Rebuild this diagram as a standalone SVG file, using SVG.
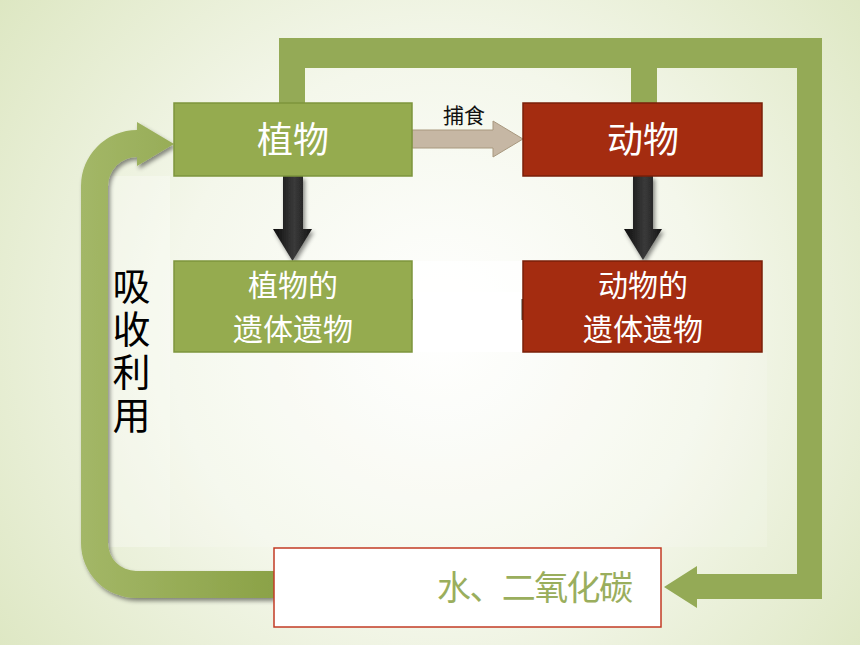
<svg xmlns="http://www.w3.org/2000/svg" width="860" height="645" viewBox="0 0 860 645">
<defs>
<radialGradient id="bg" gradientUnits="userSpaceOnUse" cx="440" cy="330" r="600">
<stop offset="0" stop-color="#ffffff"/>
<stop offset="0.45" stop-color="#f4f7eb"/>
<stop offset="1" stop-color="#d9e4bb"/>
</radialGradient>
<linearGradient id="blk" x1="0" y1="0" x2="1" y2="0">
<stop offset="0" stop-color="#0d0d0d"/>
<stop offset="0.55" stop-color="#3a3a3a"/>
<stop offset="1" stop-color="#141414"/>
</linearGradient>
<linearGradient id="band" gradientUnits="userSpaceOnUse" x1="81" y1="0" x2="274" y2="0">
<stop offset="0" stop-color="#a3b767"/>
<stop offset="1" stop-color="#8ba247"/>
</linearGradient>
<filter id="sh" x="-10%" y="-10%" width="130%" height="130%">
<feDropShadow dx="2" dy="3" stdDeviation="2" flood-color="#000" flood-opacity="0.45"/>
</filter>
</defs>
<style>
.t{font-family:"Noto Sans CJK SC","Noto Sans",sans-serif;text-anchor:middle}
.w{fill:#ffffff}
.g{fill:#95ab4f;stroke:#7d953c;stroke-width:1.5}
.r{fill:#a42c10;stroke:#7a1f08;stroke-width:1.5}
.b{fill:url(#blk)}
</style>
<rect width="860" height="645" fill="url(#bg)"/>
<rect x="107" y="176" width="63" height="371" fill="#ffffff" opacity="0.3"/>
<rect x="170" y="352" width="597" height="195" fill="#ffffff" opacity="0.15"/>
<rect x="411" y="261" width="112" height="31" fill="#ffffff" opacity="0.7"/>
<rect x="411" y="292" width="112" height="60" fill="#ffffff"/>
<g id="connectors">
<path id="cycle-band" d="M279,103 L279,38 L822,38 L822,599 L697,599 L697,608 L664,587 L697,566 L697,574 L797,574 L797,68 L657,68 L657,103 L631,103 L631,68 L305,68 L305,103 Z" fill="#94aa56"/>
<path id="absorb-arrow" filter="url(#sh)" fill="url(#band)" d="M274,571 L136,571 A28,28 0 0 1 108,543 L108,186 A29,29 0 0 1 137,157 L137,166 L174,144 L137,122 L137,130 A56,56 0 0 0 81,186 L81,543 A55,55 0 0 0 136,598 L274,598 Z"/>
<path id="prey-arrow" d="M412,130 L493,130 L493,121 L523,139 L493,157 L493,148 L412,148 Z" fill="#c6b7a4" stroke="#a8987f" stroke-width="1"/>
<path id="plant-down" class="b" filter="url(#sh)" d="M283,176 L303,176 L303,229 L312,229 L292.5,261 L273,229 L283,229 Z"/>
<path id="animal-down" class="b" filter="url(#sh)" d="M633,176 L653,176 L653,229 L662,229 L643,260 L624,229 L633,229 Z"/>
<text class="t" x="464" y="123" font-size="21" fill="#111">捕食</text>
</g>
<rect x="409.5" y="299" width="3" height="21" fill="#3c3c30"/>
<rect x="521.5" y="299" width="3" height="21" fill="#3c3c30"/>
<g id="plant">
<rect class="g" x="174" y="103" width="238" height="73"/>
<text class="t w" x="293" y="153" font-size="36">植物</text>
</g>
<g id="animal">
<rect class="r" x="523" y="103" width="239" height="73"/>
<text class="t w" x="643" y="153" font-size="36">动物</text>
</g>
<g id="plant-remains">
<rect class="g" x="174" y="261" width="238" height="91"/>
<text class="t w" font-size="30"><tspan x="293" y="296">植物的</tspan><tspan x="293" y="340">遗体遗物</tspan></text>
</g>
<g id="animal-remains">
<rect class="r" x="523" y="261" width="239" height="91"/>
<text class="t w" font-size="30"><tspan x="643" y="296">动物的</tspan><tspan x="643" y="340">遗体遗物</tspan></text>
</g>
<g id="water-co2">
<rect x="274" y="548" width="387" height="79" fill="#ffffff" stroke="#c23b24" stroke-width="1.5"/>
<text x="437" y="600" font-size="34" fill="#9aae5d" font-family="Noto Sans CJK SC, sans-serif" textLength="196" lengthAdjust="spacing">水、二氧化碳</text>
</g>
<g id="absorb-label">
<text x="131.5" y="267" font-size="38" fill="#000" font-family="Noto Sans CJK SC, sans-serif" writing-mode="vertical-rl" letter-spacing="5">吸收利用</text>
</g>
</svg>
